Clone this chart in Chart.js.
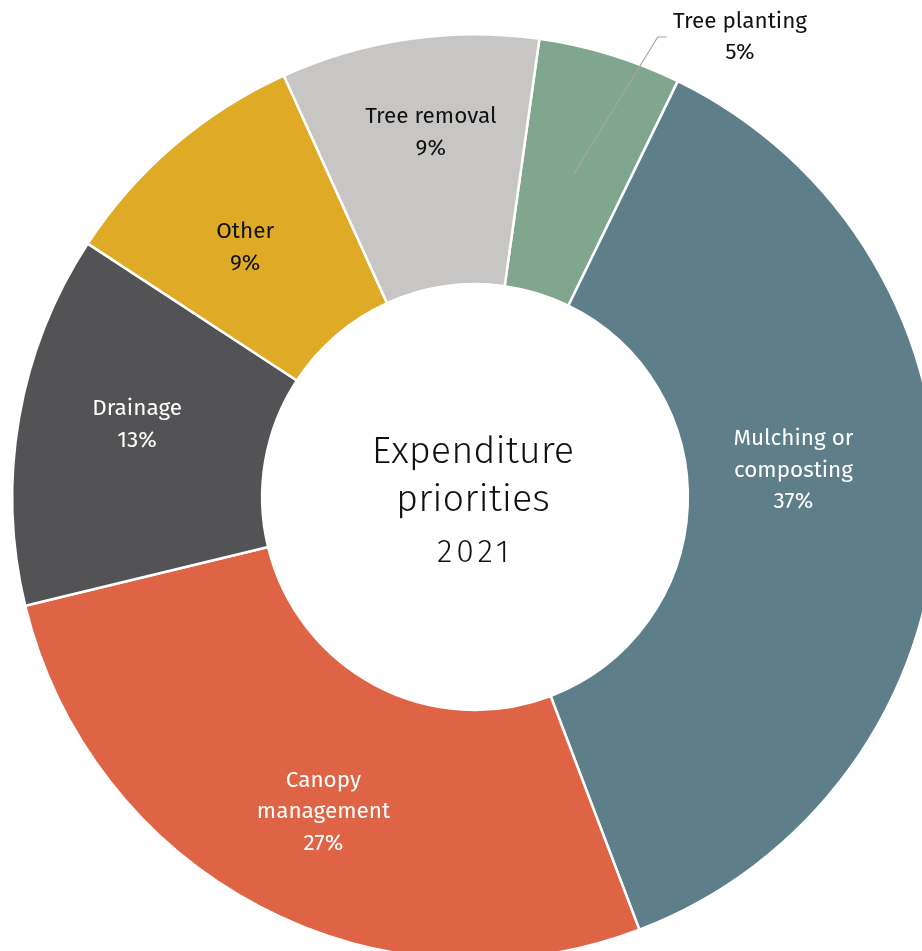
<!DOCTYPE html>
<html>
<head>
<meta charset="utf-8">
<title>Expenditure priorities 2021</title>
<script src="https://cdn.jsdelivr.net/npm/chart.js@4.4.1/dist/chart.umd.min.js"></script>
<style>
  html, body { margin: 0; padding: 0; background: #fff; overflow: hidden; }
  #wrap { position: absolute; left: 0; top: 0; width: 950px; height: 994px; }
</style>
</head>
<body>
<div id="wrap"><canvas id="priorityChart"></canvas></div>
<script>
// expenditure share by category, in percent
const categories = ['Tree planting', 'Mulching or composting', 'Canopy management', 'Drainage', 'Other', 'Tree removal'];
const shares = [5, 37, 27, 13, 9, 9];
const sliceColors = ['#80a78e', '#5e7f8a', '#df6446', '#535254', '#dfab27', '#c7c6c4'];

// how each label is split over lines, its colour and nudge from the slice centre
const labelLines = [['Tree planting'], ['Mulching or', 'composting'], ['Canopy', 'management'], ['Drainage'], ['Other'], ['Tree removal']];
const labelInk = ['#111', '#fff', '#fff', '#fff', '#111', '#111'];
const labelShift = [[0, 0], [-19, -42], [6, 16], [-5, -15], [-10, 7], [4, -30]];

const FONT = '"Fira Sans", "Open Sans", sans-serif';

const sliceLabels = {
    id: 'sliceLabels',
    afterDatasetsDraw(chart) {
        const ctx = chart.ctx;
        const arcs = chart.getDatasetMeta(0).data;
        ctx.save();
        ctx.font = '22.5px ' + FONT;
        ctx.textAlign = 'center';
        ctx.textBaseline = 'middle';
        arcs.forEach((arc, i) => {
            const pos = arc.tooltipPosition();
            const lines = labelLines[i].concat([shares[i] + '%']);
            let cx, cy;
            if (i === 0) {
                // small slice: label sits outside with a leader line
                const kneeX = pos.x + 84, kneeY = 37;
                ctx.strokeStyle = '#a6a6a6';
                ctx.lineWidth = 1.2;
                ctx.beginPath();
                ctx.moveTo(pos.x, pos.y);
                ctx.lineTo(kneeX, kneeY);
                ctx.lineTo(kneeX + 9, kneeY);
                ctx.stroke();
                cx = 740; cy = 37;
            } else {
                cx = pos.x + labelShift[i][0];
                cy = pos.y + labelShift[i][1];
            }
            ctx.fillStyle = labelInk[i];
            const lh = 31.5;
            const top = cy - (lines.length - 1) * lh / 2;
            lines.forEach((t, k) => ctx.fillText(t, cx, top + k * lh));
        });
        ctx.restore();
    }
};

const centreTitle = {
    id: 'centreTitle',
    afterDraw(chart) {
        const ctx = chart.ctx;
        const arc = chart.getDatasetMeta(0).data[0];
        const x = arc.x - 2, y = arc.y;
        ctx.save();
        ctx.fillStyle = '#111';
        ctx.textAlign = 'center';
        ctx.textBaseline = 'middle';
        ctx.font = '300 38px ' + FONT;
        ctx.fillText('Expenditure', x, y - 45);
        ctx.fillText('priorities', x, y + 3);
        ctx.font = '300 32px ' + FONT;
        ctx.letterSpacing = '4px';
        ctx.fillText('2021', x + 2, y + 56);
        ctx.restore();
    }
};

new Chart(document.getElementById('priorityChart'), {
    type: 'doughnut',
    data: {
        labels: categories,
        datasets: [{
            data: shares,
            backgroundColor: sliceColors,
            borderColor: '#ffffff',
            borderWidth: 2.5
        }]
    },
    options: {
        responsive: true,
        maintainAspectRatio: false,
        animation: false,
        rotation: 8,
        cutout: '46%',
        layout: { padding: 11 },
        plugins: {
            legend: { display: false },
            tooltip: { enabled: false }
        }
    },
    plugins: [sliceLabels, centreTitle]
});
</script>
</body>
</html>
